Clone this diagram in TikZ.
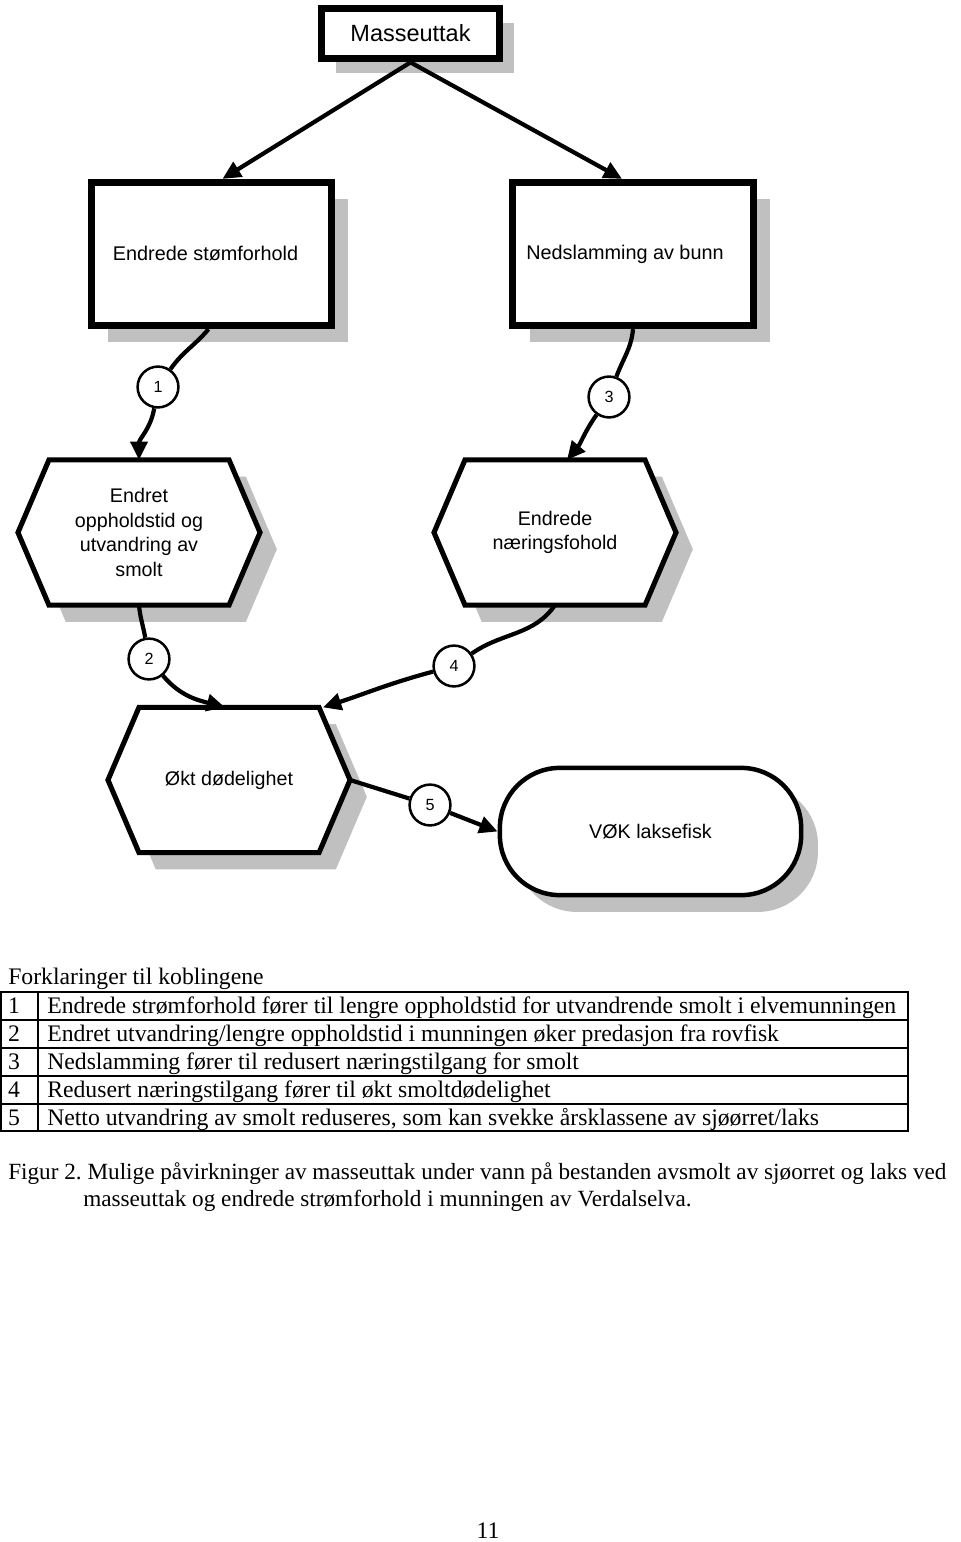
\documentclass[tikz,border=0pt]{standalone}
\usepackage{fontspec}
\setmainfont{Liberation Serif}
\newfontfamily\arialfont{Liberation Sans}
\usetikzlibrary{arrows.meta,shapes,calc,positioning,shadows,backgrounds}
\definecolor{shadowgray}{RGB}{192,192,192}
\frenchspacing

\tikzset{
	grayshadow/.style={drop shadow={shadow xshift=#1, shadow yshift=-#1, fill=shadowgray, opacity=1}},
	mainbox/.style={draw, line width=5.5pt, fill=white, minimum width=4.45cm, minimum height=1.25cm,
		font=\arialfont\fontsize{16.7}{20}\selectfont, grayshadow=0.37cm},
	effectbox/.style={draw, line width=5pt, fill=white, minimum width=6cm, minimum height=3.58cm,
		font=\arialfont\fontsize{14.1}{17.6}\selectfont, grayshadow=0.42cm},
	hexbox/.style={minimum width=6.05cm, minimum height=3.63cm, outer sep=0pt, inner sep=0pt,
		align=center, font=\arialfont\fontsize{14}{17.6}\selectfont},
	hexline/.style={draw, line width=3.6pt, fill=white, grayshadow=0.42cm},
	endbox/.style={draw, line width=3.2pt, fill=white, rounded corners=1.5cm, minimum width=7.53cm,
		minimum height=3.18cm, font=\arialfont\fontsize{14}{17.6}\selectfont, grayshadow=0.42cm},
	num/.style={circle, draw, line width=1.8pt, fill=white, minimum size=1.02cm, inner sep=0pt,
		font=\arialfont\fontsize{11.5}{13}\selectfont},
	link/.style={line width=3pt},
	arr/.style={-{Triangle[length=13pt,width=12pt]}},
	tabline/.style={line width=0.8pt},
	tabtext/.style={inner sep=0pt, font=\fontsize{16.85}{20}\selectfont},
	captext/.style={inner sep=0pt, font=\fontsize{16.5}{20}\selectfont},
}

\newcommand{\hexframe}[1]{%
	\draw[hexline] (#1.west) -- ($(#1.north west)+(31,0)$) -- ($(#1.north east)+(-31,0)$)
		-- (#1.east) -- ($(#1.south east)+(-31,0)$) -- ($(#1.south west)+(31,0)$) -- cycle;}

\begin{document}
\begin{tikzpicture}[x=0.025cm, y=-0.025cm]
	\useasboundingbox (0,0) rectangle (960,1542);

	\node [mainbox] (mass) at (410.5,33.5) {Masseuttak};
	\node [effectbox] (strom) at (211.5,254) {Endrede stømforhold\hspace*{0.3cm}};
	\node [effectbox] (slam) at (633,254) {Nedslamming av bunn\hspace*{0.4cm}};
	\node [hexbox] (hexA) at (139,532.5) {Endret\\oppholdstid og\\utvandring av\\smolt};
	\node [hexbox] (hexB) at (555,532.5) {Endrede\\næringsfohold};
	\node [hexbox] (hexC) at (229,780) {Økt dødelighet};
	\node [endbox] (vok) at (650.5,831.5) {VØK laksefisk};

	\begin{pgfonlayer}{background}
		\foreach \h in {hexA,hexB,hexC} \hexframe{\h};
	\end{pgfonlayer}

	\node [num] (n1) at (158,387) {1};
	\node [num] (n2) at (149,659) {2};
	\node [num] (n3) at (609,397) {3};
	\node [num] (n4) at (454,666) {4};
	\node [num] (n5) at (430,805) {5};

	\draw [link,arr] (mass.south) -- ($(strom.north)+(11,0)$);
	\draw [link,arr] (mass.south) -- ($(slam.north)+(-11,0)$);
	\draw [link] ($(strom.south)+(-3,0)$) to[out=-130,in=55] (n1);
	\draw [link,arr] (n1) to[out=-100,in=90] (hexA.north);
	\draw [link] (slam.south) to[out=-95,in=70] (n3);
	\draw [link,arr] (n3) to[out=-125,in=50] ($(hexB.north)+(12,0)$);
	\draw [link] (hexA.south) to[out=-85,in=100] (n2);
	\draw [link,arr] (n2) to[out=-50,in=165] ($(hexC.north)+(-4,0)$);
	\draw [link] (hexB.south) to[out=-125,in=35] (n4);
	\draw [link,arr] (n4) to[out=195,in=18] ($(hexC.north east)+(-27,0)$);
	\draw [link] (hexC.east) -- (n5);
	\draw [link,arr] (n5) -- (vok.west);

	% forklaringer
	\node [tabtext, anchor=base west] (head) at (8,984.5) {Forklaringer til koblingene};
	\draw [tabline] (1,992) rectangle (908,1131);
	\foreach \y in {1020,1048,1076,1104} \draw [tabline] (1,\y) -- (908,\y);
	\draw [tabline] (38,992) -- (38,1131);
	\foreach \n/\txt in {1/{Endrede strømforhold fører til lengre oppholdstid for utvandrende smolt i elvemunningen},
		2/{Endret utvandring/lengre oppholdstid i munningen øker predasjon fra rovfisk},
		3/{Nedslamming fører til redusert næringstilgang for smolt},
		4/{Redusert næringstilgang fører til økt smoltdødelighet},
		5/{Netto utvandring av smolt reduseres, som kan svekke årsklassene av sjøørret/laks}}{
		\node [tabtext, anchor=base] (num\n) at (14,985.5+28*\n) {\n};
		\node [tabtext, anchor=base west] (expl\n) at (47,985.5+28*\n) {\txt};
	}

	\node [captext, anchor=base west] (cap1) at (8,1179.5) {Figur 2. Mulige påvirkninger av masseuttak under vann på bestanden avsmolt av sjøorret og laks ved};
	\node [captext, anchor=base west] (cap2) at (83,1206.5) {masseuttak og endrede strømforhold i munningen av Verdalselva.};
	\node [tabtext, anchor=base] (page) at (488,1538) {11};
\end{tikzpicture}
\end{document}
